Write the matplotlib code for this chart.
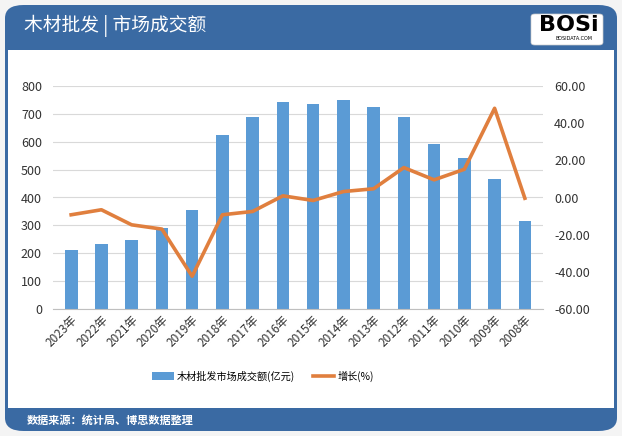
import matplotlib.pyplot as plt
from matplotlib.patches import FancyBboxPatch, Rectangle

plt.rcParams['font.family'] = ['Noto Sans CJK SC', 'DejaVu Sans']

# data
years = ['2023年', '2022年', '2021年', '2020年', '2019年', '2018年', '2017年', '2016年',
         '2015年', '2014年', '2013年', '2012年', '2011年', '2010年', '2009年', '2008年']
turnover = [212, 234, 248, 291, 356, 624, 689, 743, 735, 750, 725, 689, 593, 542, 468, 316]
growth = [-9.3, -6.6, -14.7, -17.0, -42.4, -9.3, -7.5, 0.9, -1.6, 3.2, 4.7, 16.1, 9.5, 15.2, 48.0, -0.4]

title = '木材批发 | 市场成交额'
source = '数据来源：统计局、博思数据整理'

blue_dark = '#3a6aa3'
bar_color = '#5b9bd5'
line_color = '#e07f3e'

fig = plt.figure(figsize=(6.22, 4.36), dpi=100)
W, H = 622, 436

def fx(px):
    return px / W

def fy(py):
    return 1 - py / H

# card background with header / footer bands
card = FancyBboxPatch((fx(5), fy(431)), fx(612), 426 / H,
                      boxstyle='round,pad=0,rounding_size=0.03',
                      transform=fig.transFigure, facecolor=blue_dark,
                      edgecolor='none', zorder=0)
fig.patches.append(card)
fig.patches.append(Rectangle((fx(8), fy(408)), fx(606), 358 / H,
                             transform=fig.transFigure, facecolor='white',
                             edgecolor='none', zorder=1))

fig.text(fx(24), fy(26), title, color='white', fontsize=13.5, va='center', ha='left')
fig.text(fx(27), fy(420), source, color='white', fontsize=8.0, va='center', ha='left',
         fontweight='bold')

# logo box
fig.patches.append(FancyBboxPatch((fx(531), fy(45)), fx(72), 31 / H,
                                  boxstyle='round,pad=0,rounding_size=0.006',
                                  transform=fig.transFigure, facecolor='white',
                                  edgecolor='#cccccc', lw=0.5, zorder=2))
fig.text(fx(569), fy(25), 'BOSi', color='black', fontsize=16, fontweight='black',
         ha='center', va='center', family='DejaVu Sans', zorder=3)
fig.text(fx(574), fy(39), 'BOSIDATA.COM', color='black', fontsize=3.5,
         ha='center', va='center', family='DejaVu Sans', zorder=3)

ax = fig.add_axes([fx(53), fy(309), fx(543 - 53), (309 - 86) / H])
ax.set_zorder(3)
x = list(range(len(years)))
ax.bar(x, turnover, width=0.42, color=bar_color, zorder=2, label='木材批发市场成交额(亿元)')
ax.set_ylim(0, 800)
ax.set_yticks(range(0, 801, 100))
ax.set_xlim(-0.6, len(years) - 0.4)
ax.set_xticks(x)
ax.set_xticklabels(years, rotation=45, ha='right', rotation_mode='anchor', fontsize=8.5,
                   color='#333333')
ax.tick_params(axis='y', labelsize=9, colors='#333333', length=0, pad=8)
ax.tick_params(axis='x', length=0, pad=3)
ax.grid(axis='y', color='#d9d9d9', lw=0.8, zorder=0)
for s in ['top', 'right', 'left']:
    ax.spines[s].set_visible(False)
ax.spines['bottom'].set_color('#bfbfbf')
ax.set_facecolor('none')

ax2 = ax.twinx()
ax2.plot(x, growth, color=line_color, lw=2.6, zorder=3, label='增长(%)')
ax2.set_ylim(-60, 60)
ax2.set_yticks(range(-60, 61, 20))
ax2.set_yticklabels([f'{v:.2f}' for v in range(-60, 61, 20)])
ax2.tick_params(axis='y', labelsize=9, colors='#333333', length=0, pad=8)
for s in ax2.spines.values():
    s.set_visible(False)

h1, l1 = ax.get_legend_handles_labels()
h2, l2 = ax2.get_legend_handles_labels()
fig.legend(h1 + h2, l1 + l2, loc='center', bbox_to_anchor=(fx(263), fy(376)), ncol=2,
           frameon=False, fontsize=7.3, handlelength=2.1, columnspacing=1.8,
           handletextpad=0.3)

fig.savefig('out.png', dpi=100, facecolor='#f4f4f4')
